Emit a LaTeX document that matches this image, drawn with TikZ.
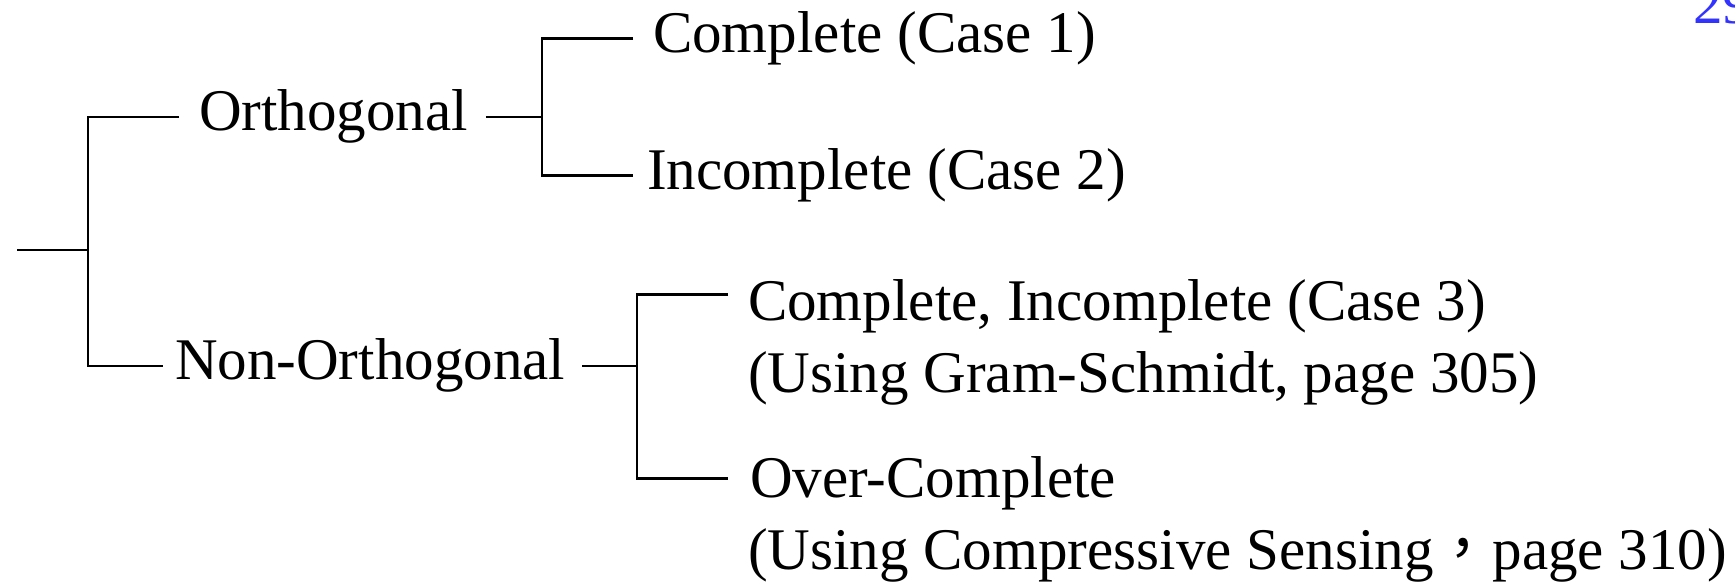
\documentclass[tikz,border=0pt]{standalone}
\usepackage{fontspec}
\setmainfont{Liberation Serif}
\newfontfamily\cjk{Noto Sans CJK TC}
\usetikzlibrary{positioning}

\begin{document}
\begin{tikzpicture}[
  font=\fontsize{16.8}{20}\selectfont,
  label/.style={anchor=base west, inner sep=0pt, outer sep=0pt},
  leaf/.style={label},
  branch/.style={line width=0.75pt, black},
  pagenum/.style={label, text=blue!80}
]
\useasboundingbox (0,0) rectangle (17.35,-5.84);

% Root and first level
\coordinate (root) at (0.17,-2.50);
\coordinate (j0) at (0.88,-2.50);
\node[label] (orth) at (1.99,-1.31) {Orthogonal};
\node[label] (nonorth) at (1.75,-3.80) {Non-Orthogonal};

% Orthogonal leaves
\coordinate (j1) at (5.42,-1.17);
\node[leaf] (c1) at (6.53,-0.53) {Complete (Case 1)};
\node[leaf] (c2) at (6.47,-1.90) {Incomplete (Case 2)};

% Non-orthogonal leaves
\coordinate (j2) at (6.37,-3.87);
\node[leaf] (c3) at (7.48,-3.21) {Complete, Incomplete (Case 3)};
\node[leaf] (c3b) at ([yshift=-0.72cm]c3.base west) {(Using Gram-Schmidt, page 305)};
\node[leaf] (over) at (7.50,-4.98) {Over-Complete};
\node[leaf] (overb) at (7.48,-5.70) {(Using Compressive Sensing{\cjk ，}page 310)};

% Page number
\node[pagenum] (pnum) at (16.93,-0.24) {29};

% Connectors
\draw[branch] (root) -- (j0);
\draw[branch] ([xshift=-2mm]orth.west) -| (j0) |- ([xshift=-1.2mm]nonorth.west);
\draw[branch] ([xshift=1.8mm]orth.east) -- (orth.east -| j1);
\draw[branch] ([xshift=-2mm]c1.west) -| (j1) |- ([xshift=-1.4mm]c2.west);
\draw[branch] ([xshift=1.7mm]nonorth.east) -- (nonorth.east -| j2);
\draw[branch] ([xshift=-2mm,yshift=1.2mm]c3.west) -| (j2) |- ([xshift=-2.2mm,yshift=0.5mm]over.west);
\end{tikzpicture}
\end{document}
